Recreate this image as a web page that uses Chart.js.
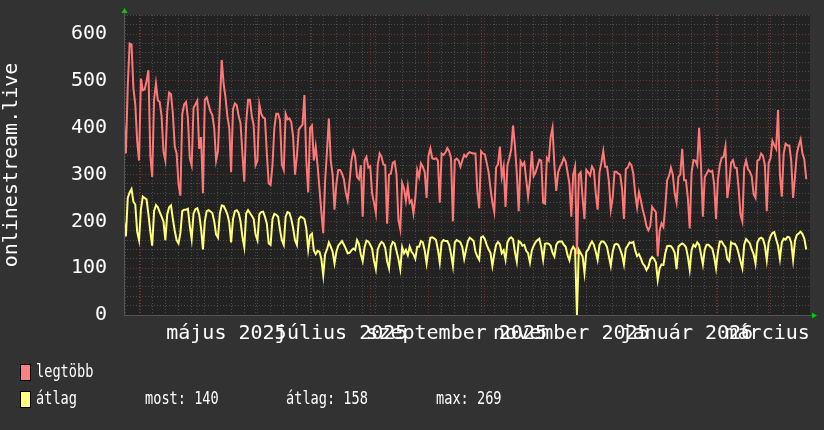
<!DOCTYPE html>
<html>
<head>
<meta charset="utf-8">
<script src="https://cdn.jsdelivr.net/npm/chart.js@4/dist/chart.umd.min.js"></script>
<style>
  html, body { margin: 0; padding: 0; background: #323232; }
  canvas { display: block; }
</style>
</head>
<body>
<canvas id="chart" width="824" height="430"></canvas>
<script>
// daily values, day 0 = 2025-03-23
const maxValues = [
  410,345,490,580,578,485,450, 372,330,505,480,482,500,523, 340,295,460,495,459,455,425,
  349,330,435,475,472,430,360, 345,280,255,430,450,455,420, 335,320,443,450,458,355,380,
  260,460,465,450,435,427,400, 330,350,450,545,495,465,425, 400,305,440,452,448,425,
  410,345,285,410,460,460,425, 405,320,330,450,430,422,420, 345,281,278,320,400,430,430,
  416,322,310,430,418,420,412, 380,300,340,396,402,407,470, 330,262,400,405,330,360,320,
  270,220,175,285,350,420,330, 300,225,280,310,310,302,290, 262,245,285,330,350,
  338,295,290,320,210,330,338, 315,318,260,240,218,320,345, 338,322,320,195,300,302,325,
  328,300,203,183,282,270,244, 275,240,245,217,250,310,295, 324,317,305,250,340,356,335,
  333,335,330,240,345,342,347, 357,350,335,200,331,334,330, 317,330,342,338,345,
  348,346,345,345,265,228,350, 345,343,325,305,270,240,220, 315,322,360,295,317,231,320,
  335,353,405,362,302,222,328, 320,326,290,253,288,350,297, 305,318,332,330,240,238,336,
  330,380,400,320,265,305,317, 324,336,328,305,280,210,300, 317,130,300,305,250,
  205,310,305,298,317,310,260, 225,305,325,350,317,317,285, 225,250,306,306,302,300,270,
  205,312,315,325,320,302,258, 230,262,245,225,210,190,181, 190,231,225,220,125,180,196,
  188,231,288,297,315,300,260, 240,295,300,355,288,288,250, 185,305,331,330,320,
  400,320,210,295,302,310,306, 308,280,205,290,320,336,338, 360,250,280,325,331,315,314,
  272,215,200,315,330,312,306, 296,258,250,330,332,345,340, 320,222,325,335,372,363,355,
  438,300,253,345,366,362,362, 330,250,295,345,362,375,345, 332,290
];
const avgValues = [
  200,168,250,262,269,242,236, 178,160,225,253,250,247,215, 178,148,222,235,230,220,210,
  200,160,215,230,234,205,180, 160,153,175,222,225,225,227, 190,162,217,226,228,215,185,
  140,200,222,224,221,218,200, 172,165,217,234,233,225,215, 198,155,205,222,224,218,
  200,167,145,217,224,218,212, 205,172,160,215,220,221,210, 195,153,150,205,216,214,210,
  182,160,150,210,220,218,205, 185,160,150,205,210,208,205, 185,140,170,174,138,130,137,
  135,120,85,130,140,155,146, 135,110,135,148,153,158,150, 142,132,133,138,142,
  139,160,152,130,115,145,159, 157,150,142,116,98,140,150, 156,153,143,115,100,146,156,
  153,137,120,98,145,132,139, 128,146,135,130,120,146,146, 158,155,138,110,140,165,166,
  164,160,140,112,155,160,158, 158,150,130,105,155,160,158, 155,145,120,140,158,
  165,162,158,135,125,118,166, 168,162,150,140,133,105,130, 150,156,151,132,138,118,155,
  163,166,162,135,114,158,155, 148,150,137,132,112,138,148, 156,160,163,145,118,152,153,
  152,148,133,125,150,156,157, 157,150,146,128,117,138,146, 140,0,139,132,125,
  90,135,140,150,157,150,135, 118,150,157,157,153,145,125, 105,135,150,152,150,140,128,
  108,142,148,155,154,156,138, 126,130,121,110,105,96,103, 118,124,120,112,75,100,108,
  107,132,147,148,147,142,133, 98,146,150,153,150,145,125, 97,139,150,146,155,
  150,130,108,140,150,150,146, 142,125,100,135,157,157,150, 145,120,115,155,152,152,146,
  132,115,100,150,162,158,153, 140,130,110,155,163,165,162, 148,117,155,168,175,177,162,
  148,120,155,163,161,167,166, 155,118,158,171,174,178,173, 163,140
];

const monthStartDays = [9, 39, 70, 100, 131, 162, 192, 223, 253, 284, 315, 343];
const monthLabelDays = [54.5, 115.5, 177, 238, 299.5, 358.5];
const monthLabels = ['május 2025', 'július 2025', 'szeptember 2025', 'november 2025', 'január 2026', 'március 2026'];
const seriesNames = ['legtöbb', 'átlag'];
const avgStats = ['most: 140', 'átlag: 158', 'max: 269'];

const X_MAX = 365;
const Y_MAX = 641;
const MONO = '"DejaVu Sans Mono", monospace';
const RED_GRID = '#6e3232';
const GRAY_GRID = '#4c4c4c';

// weekly (monday) grid lines plus month starts
const gridDays = [];
for (let d = 1; d < X_MAX; d += 7) gridDays.push(d);
monthStartDays.forEach(d => { if (!gridDays.includes(d)) gridDays.push(d); });
gridDays.sort((a, b) => a - b);

const rrdFrame = {
  id: 'rrdFrame',
  beforeDraw(chart) {
    const { ctx, chartArea: a } = chart;
    ctx.save();
    ctx.fillStyle = '#323232';
    ctx.fillRect(0, 0, chart.width, chart.height);
    ctx.fillStyle = '#222222';
    ctx.fillRect(a.left, a.top, a.right - a.left, a.bottom - a.top);
    ctx.restore();
  },
  afterDraw(chart) {
    const { ctx, chartArea: a } = chart;
    ctx.save();
    // the last month label runs off the image, only its first word shows
    ctx.fillStyle = '#323232';
    ctx.fillRect(a.right - 1, a.bottom + 6, chart.width - a.right + 1, 30);

    // axis lines
    ctx.strokeStyle = '#555555';
    ctx.lineWidth = 1;
    ctx.beginPath();
    ctx.moveTo(a.left + 0.5, a.top - 3);
    ctx.lineTo(a.left + 0.5, a.bottom + 0.5);
    ctx.lineTo(a.right + 4, a.bottom + 0.5);
    ctx.stroke();
    // green arrows
    ctx.fillStyle = '#00cc00';
    ctx.beginPath();
    ctx.moveTo(a.left + 0.5, a.top - 7);
    ctx.lineTo(a.left - 2.5, a.top - 2);
    ctx.lineTo(a.left + 3.5, a.top - 2);
    ctx.closePath();
    ctx.fill();
    ctx.beginPath();
    ctx.moveTo(a.right + 7, a.bottom + 0.5);
    ctx.lineTo(a.right + 2, a.bottom - 2.5);
    ctx.lineTo(a.right + 2, a.bottom + 3.5);
    ctx.closePath();
    ctx.fill();

    // legend
    const sw = ['#ff8080', '#ffff80'];
    const rowY = [373, 400];
    ctx.lineWidth = 1;
    ctx.strokeStyle = '#000000';
    rowY.forEach((y, i) => {
      ctx.fillStyle = sw[i];
      ctx.fillRect(20.5, y - 8.5, 10, 16);
      ctx.strokeRect(20.5, y - 8.5, 10, 16);
    });
    ctx.fillStyle = '#ffffff';
    ctx.font = '17px ' + MONO;
    ctx.textBaseline = 'middle';
    const txt = (s, x, y) => {
      ctx.save();
      ctx.translate(x, y);
      ctx.scale(0.8, 1);
      ctx.fillText(s, 0, 0);
      ctx.restore();
    };
    txt(seriesNames[0], 36, rowY[0]);
    txt(seriesNames[1], 36, rowY[1]);
    txt(avgStats[0], 145, rowY[1]);
    txt(avgStats[1], 286, rowY[1]);
    txt(avgStats[2], 436, rowY[1]);
    ctx.restore();
  }
};

new Chart(document.getElementById('chart'), {
  type: 'line',
  data: {
    datasets: [
      {
        label: seriesNames[1],
        data: avgValues.map((v, i) => ({ x: i, y: v })),
        borderColor: '#ffff78',
        borderWidth: 2,
        pointRadius: 0,
        tension: 0,
        order: 0
      },
      {
        label: seriesNames[0],
        data: maxValues.map((v, i) => ({ x: i, y: v })),
        borderColor: '#ff7878',
        borderWidth: 2,
        pointRadius: 0,
        tension: 0,
        order: 1
      }
    ]
  },
  options: {
    responsive: false,
    devicePixelRatio: 1,
    animation: false,
    parsing: false,
    layout: { padding: { top: 15, right: 14, left: 0, bottom: 0 } },
    plugins: { legend: { display: false }, tooltip: { enabled: false } },
    scales: {
      x: {
        type: 'linear',
        min: 0,
        max: X_MAX,
        ticks: { display: false },
        grid: {
          drawTicks: false,
          color: ctx => monthStartDays.includes(ctx.tick.value) ? RED_GRID : GRAY_GRID
        },
        border: { display: false, dash: [1, 2] },
        afterBuildTicks: s => { s.ticks = gridDays.map(v => ({ value: v })); },
        afterFit: s => { s.height = 0; s.paddingLeft = 0; s.paddingRight = 0; }
      },
      x2: {
        type: 'linear',
        position: 'bottom',
        min: 0,
        max: X_MAX,
        grid: { display: false, drawTicks: false },
        border: { display: false },
        ticks: {
          autoSkip: false,
          maxRotation: 0,
          minRotation: 0,
          padding: 7,
          color: '#ffffff',
          font: { family: MONO, size: 20 },
          callback: (v, i) => monthLabels[i]
        },
        afterBuildTicks: s => { s.ticks = monthLabelDays.map(v => ({ value: v })); },
        afterFit: s => { s.height = 115; s.paddingLeft = 0; s.paddingRight = 0; }
      },
      y: {
        min: 0,
        max: Y_MAX,
        ticks: {
          autoSkip: false,
          padding: 17,
          color: '#ffffff',
          font: { family: MONO, size: 20 },
          callback: v => (v % 100 === 0 ? String(v) : '')
        },
        grid: {
          drawTicks: false,
          color: ctx => ctx.tick.value % 100 === 0 ? RED_GRID : GRAY_GRID
        },
        border: { display: false, dash: [1, 2] },
        title: {
          display: true,
          text: 'onlinestream.live',
          color: '#ffffff',
          font: { family: MONO, size: 20 },
          padding: 0
        },
        afterBuildTicks: s => {
          const t = [];
          for (let v = 0; v <= 640; v += 20) t.push({ value: v });
          s.ticks = t;
        },
        afterFit: s => { s.width = 124; s.paddingTop = 0; s.paddingBottom = 0; }
      }
    }
  },
  plugins: [rrdFrame]
});
</script>
</body>
</html>
